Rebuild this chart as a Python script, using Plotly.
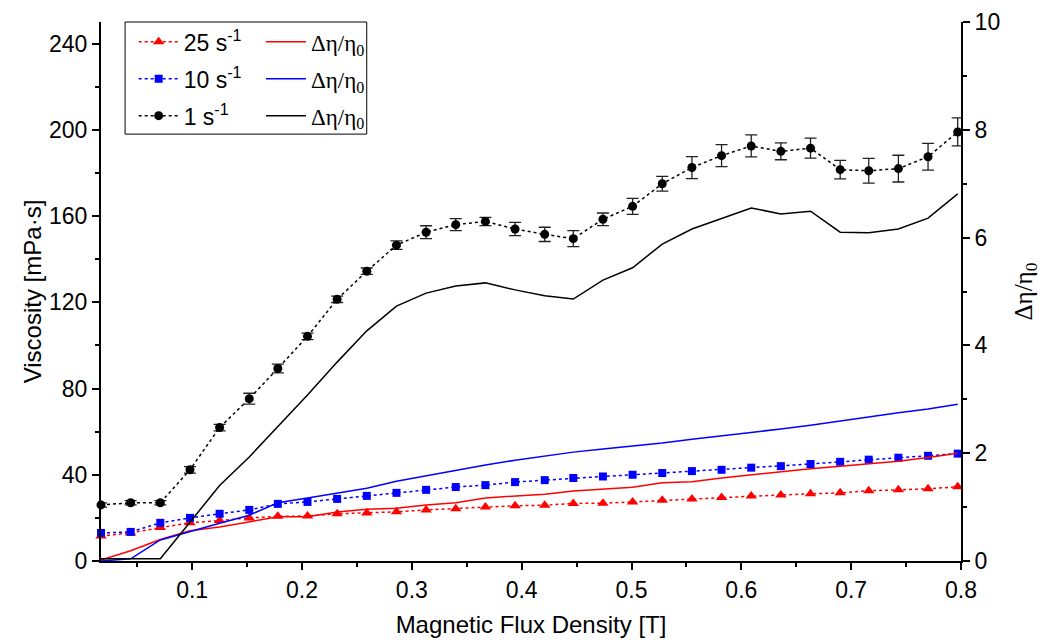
import plotly.graph_objects as go

# Magnetic flux density [T]
flux = [0.017, 0.044, 0.071, 0.098, 0.125, 0.152, 0.178, 0.205, 0.232, 0.259,
        0.286, 0.313, 0.340, 0.367, 0.394, 0.421, 0.447, 0.474, 0.501, 0.528,
        0.555, 0.582, 0.609, 0.636, 0.663, 0.690, 0.716, 0.743, 0.770, 0.797]

# Viscosity [mPa·s] at three shear rates
visc_25 = [11.6, 13.0, 15.5, 17.7, 18.8, 20.0, 20.7, 20.9, 21.9, 22.3,
           22.8, 23.7, 24.2, 25.0, 25.6, 25.9, 26.7, 26.8, 27.4, 28.2,
           28.7, 29.4, 30.1, 30.6, 31.2, 31.6, 32.6, 33.0, 33.5, 34.4]
visc_10 = [13.0, 13.5, 17.7, 20.0, 21.9, 23.7, 26.5, 27.4, 28.8, 30.2,
           31.6, 33.0, 34.3, 35.2, 36.6, 37.5, 38.5, 39.2, 40.0, 40.8,
           41.7, 42.3, 43.3, 44.0, 45.0, 46.0, 47.0, 47.9, 48.8, 49.8]
visc_1 = [26.0, 27.0, 27.0, 42.3, 61.9, 75.3, 89.3, 104.2, 121.4, 134.4,
          146.5, 152.5, 156.0, 157.5, 154.0, 151.5, 149.5, 158.5, 164.5, 175.0,
          182.5, 188.0, 192.5, 190.0, 191.5, 181.5, 181.0, 182.0, 187.5, 199.0]
visc_1_err = [1.0, 1.0, 1.0, 1.5, 1.5, 2.5, 2.0, 1.5, 1.5, 1.5,
              2.0, 3.0, 2.8, 1.9, 3.1, 3.3, 3.7, 2.9, 3.7, 3.4,
              5.1, 5.1, 5.1, 3.9, 4.6, 4.3, 5.7, 6.2, 6.2, 6.5]

# Relative viscosity increase Δη/η0
rel_25 = [0.02, 0.19, 0.40, 0.56, 0.63, 0.72, 0.82, 0.82, 0.91, 0.96,
          0.98, 1.04, 1.08, 1.17, 1.21, 1.24, 1.30, 1.34, 1.37, 1.45,
          1.47, 1.54, 1.60, 1.65, 1.71, 1.76, 1.80, 1.85, 1.92, 2.00]
rel_10 = [0.00, 0.04, 0.39, 0.55, 0.70, 0.85, 1.08, 1.17, 1.26, 1.35,
          1.48, 1.58, 1.69, 1.78, 1.87, 1.95, 2.02, 2.08, 2.13, 2.19,
          2.26, 2.32, 2.39, 2.45, 2.52, 2.60, 2.67, 2.75, 2.82, 2.91]
rel_1 = [0.04, 0.04, 0.04, 0.72, 1.40, 1.93, 2.49, 3.08, 3.69, 4.27,
         4.73, 4.97, 5.10, 5.16, 5.03, 4.92, 4.86, 5.21, 5.44, 5.88,
         6.16, 6.36, 6.55, 6.44, 6.49, 6.10, 6.09, 6.16, 6.36, 6.81]

rate_labels = ["25 s<sup>-1</sup>", "10 s<sup>-1</sup>", "1 s<sup>-1</sup>"]
rel_label = "Δη/η<sub>0</sub>"

SANS = "Arial, Liberation Sans, sans-serif"
SERIF = "Times New Roman, Liberation Serif, serif"

fig = go.Figure()

series = [
    (visc_25, None, rel_25, "#ff0000", "triangle-up", 10),
    (visc_10, None, rel_10, "#0000ff", "square", 8),
    (visc_1, visc_1_err, rel_1, "#000000", "circle", 9),
]

for k, (visc, err, rel, color, symbol, msize) in enumerate(series):
    fig.add_trace(go.Scatter(
        x=flux, y=visc, mode="lines+markers", name=rate_labels[k],
        line=dict(color=color, width=1.5, dash="dot"),
        marker=dict(symbol=symbol, size=msize, color=color),
        error_y=dict(type="data", array=err, visible=err is not None,
                     color="#222222", thickness=1.3, width=6),
        cliponaxis=False, legend="legend", legendgroup=f"v{k}",
        yaxis="y",
    ))

for k, (visc, err, rel, color, symbol, msize) in enumerate(series):
    fig.add_trace(go.Scatter(
        x=flux, y=rel, mode="lines", name=rel_label,
        line=dict(color=color, width=1.5),
        cliponaxis=False, legend="legend2", legendgroup=f"r{k}",
        yaxis="y2",
    ))

axis_common = dict(
    showline=True, linecolor="black", linewidth=2,
    ticks="outside", ticklen=7, tickwidth=2, tickcolor="black",
    showgrid=False, zeroline=False, automargin=False,
    tickfont=dict(family=SANS, size=23, color="black"),
)

fig.update_layout(
    width=1041, height=643,
    margin=dict(l=101, r=80, t=22, b=82),
    paper_bgcolor="white", plot_bgcolor="white",
    font=dict(family=SANS, size=22, color="black"),
    xaxis=dict(
        range=[0.017, 0.8], tick0=0, dtick=0.1, tickformat=".1f",
        minor=dict(dtick=0.05, tick0=0, ticks="outside", ticklen=4,
                   tickwidth=1.5, tickcolor="black"),
        title=dict(text="Magnetic Flux Density [T]",
                   font=dict(family=SANS, size=24), standoff=15),
        **axis_common,
    ),
    yaxis=dict(
        range=[0, 250], tick0=0, dtick=40,
        minor=dict(dtick=20, tick0=0, ticks="outside", ticklen=4,
                   tickwidth=1.5, tickcolor="black"),
        title=dict(text="Viscosity [mPa·s]",
                   font=dict(family=SANS, size=24), standoff=1),
        **axis_common,
    ),
    yaxis2=dict(
        range=[0, 10], tick0=0, dtick=2, overlaying="y", side="right",
        minor=dict(dtick=1, tick0=0, ticks="outside", ticklen=4,
                   tickwidth=1.5, tickcolor="black"),
        title=dict(text=rel_label,
                   font=dict(family=SERIF, size=25), standoff=15),
        **axis_common,
    ),
    legend=dict(
        x=0.038, y=1.003, xanchor="left", yanchor="top",
        bgcolor="rgba(0,0,0,0)", borderwidth=0, itemwidth=40,
        font=dict(family=SANS, size=23), tracegroupgap=4,
    ),
    legend2=dict(
        x=0.186, y=1.003, xanchor="left", yanchor="top",
        bgcolor="rgba(0,0,0,0)", borderwidth=0, itemwidth=40,
        font=dict(family=SERIF, size=23), tracegroupgap=4,
    ),
    shapes=[dict(
        type="rect", xref="paper", yref="paper",
        x0=0.028, x1=0.309, y0=0.792, y1=1.0,
        line=dict(color="black", width=1), fillcolor="white", layer="above",
    )],
)

fig.write_html("out.html")
